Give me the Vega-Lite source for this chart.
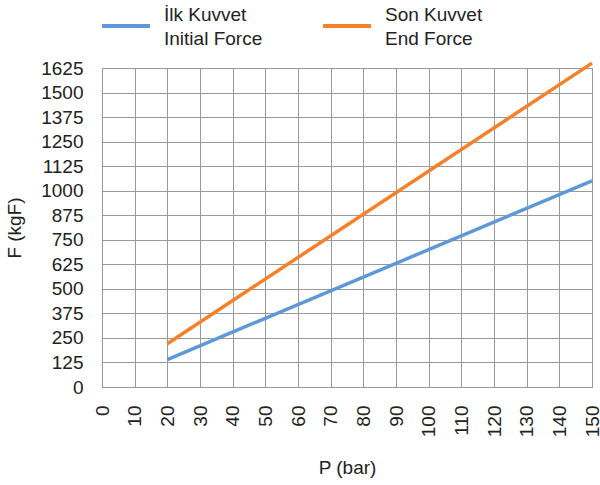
{
  "$schema": "https://vega.github.io/schema/vega-lite/v6.json",
  "width": 490,
  "height": 319,
  "autosize": "none",
  "padding": {"left": 102, "top": 68, "right": 8, "bottom": 98},
  "background": "white",
  "config": {
    "font": "Liberation Sans",
    "view": {"stroke": "#999999", "strokeWidth": 1},
    "style": {"guide-label": {"lineHeight": 24}}
  },
  "data": {
    "values": [
      {"P": 20, "F": 140, "series": "İlk Kuvvet|Initial Force"},
      {"P": 150, "F": 1050, "series": "İlk Kuvvet|Initial Force"},
      {"P": 20, "F": 220, "series": "Son Kuvvet|End Force"},
      {"P": 150, "F": 1650, "series": "Son Kuvvet|End Force"}
    ]
  },
  "mark": {"type": "line", "strokeWidth": 3.5, "clip": false},
  "encoding": {
    "x": {
      "field": "P",
      "type": "quantitative",
      "scale": {"domain": [0, 150], "nice": false},
      "axis": {
        "title": "P (bar)",
        "values": [0,10,20,30,40,50,60,70,80,90,100,110,120,130,140,150],
        "format": "d",
        "labelAngle": 270,
        "labelAlign": "right",
        "labelBaseline": "middle",
        "labelPadding": 18,
        "labelFontSize": 19,
        "labelColor": "#222222",
        "labelFont": "Liberation Sans",
        "titleFontSize": 19,
        "titleFontWeight": "normal",
        "titleColor": "#222222",
        "titleFont": "Liberation Sans",
        "titlePadding": 22,
        "ticks": false,
        "domainColor": "#999999",
        "gridColor": "#999999",
        "gridOpacity": 1,
        "labelFlush": false,
        "labelOverlap": false
      }
    },
    "y": {
      "field": "F",
      "type": "quantitative",
      "scale": {"domain": [0, 1625], "nice": false},
      "axis": {
        "title": "F (kgF)",
        "values": [0,125,250,375,500,625,750,875,1000,1125,1250,1375,1500,1625],
        "format": "d",
        "labelFontSize": 19,
        "labelColor": "#222222",
        "labelFont": "Liberation Sans",
        "labelPadding": 19,
        "titleFontSize": 19,
        "titleFontWeight": "normal",
        "titleColor": "#222222",
        "titleFont": "Liberation Sans",
        "titlePadding": 16,
        "ticks": false,
        "domainColor": "#999999",
        "gridColor": "#999999",
        "gridOpacity": 1,
        "labelFlush": false,
        "labelOverlap": false
      }
    },
    "color": {
      "field": "series",
      "type": "nominal",
      "scale": {
        "domain": ["İlk Kuvvet|Initial Force", "Son Kuvvet|End Force"],
        "range": ["#5f98d8", "#f5822a"]
      },
      "legend": {
        "title": null,
        "orient": "none",
        "legendX": -2,
        "legendY": -79,
        "direction": "horizontal",
        "columns": 2,
        "columnPadding": 52,
        "symbolType": "M-1,0.46H1",
        "symbolSize": 2300,
        "symbolStrokeWidth": 4,
        "symbolOffset": 0,
        "labelOffset": 12,
        "labelFontSize": 19,
        "labelBaseline": "middle",
        "labelFont": "Liberation Sans",
        "labelColor": "#222222",
        "labelLimit": 300,
        "labelExpr": "split(datum.label, '|')"
      }
    }
  }
}
